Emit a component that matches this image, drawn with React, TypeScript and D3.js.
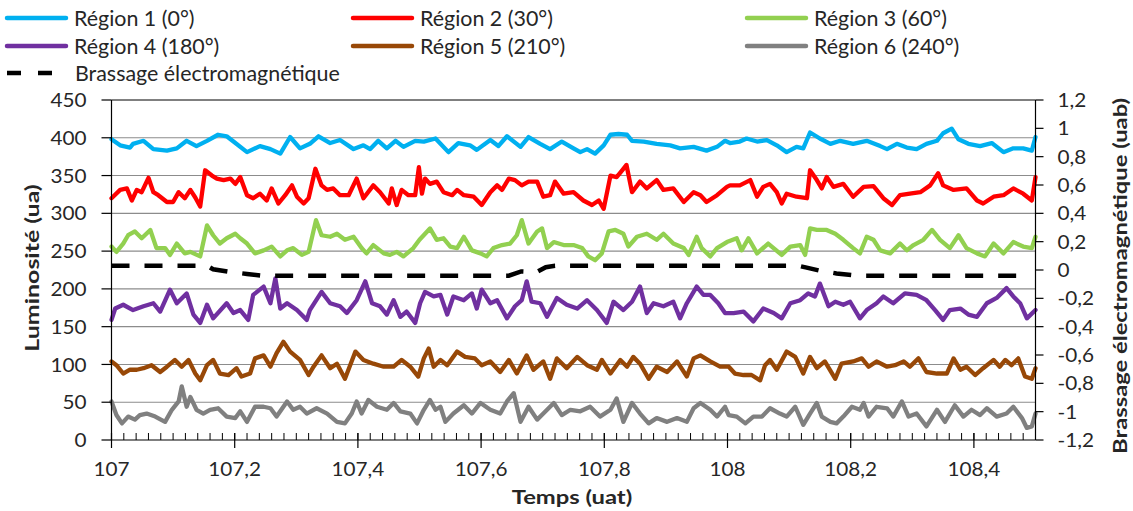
import React from "react";
import * as d3 from "d3";

// ---------- DATA (time in uat, luminosity in ua) ----------
const region1: [number, number][] = [
  [107.000, 398], [107.014, 390], [107.030, 387], [107.035, 392], [107.052, 396], [107.068, 385], [107.090, 383], [107.106, 386],
  [107.122, 396], [107.138, 389], [107.155, 396], [107.173, 404], [107.187, 402], [107.198, 395], [107.220, 381], [107.241, 389],
  [107.258, 385], [107.274, 379], [107.290, 401], [107.306, 386], [107.322, 392], [107.336, 402], [107.355, 393], [107.371, 397],
  [107.393, 385], [107.409, 390], [107.420, 385], [107.433, 396], [107.447, 386], [107.461, 396], [107.474, 388], [107.493, 396],
  [107.507, 395], [107.526, 399], [107.547, 381], [107.563, 393], [107.582, 390], [107.593, 384], [107.615, 397], [107.628, 389],
  [107.642, 402], [107.664, 388], [107.677, 401], [107.696, 392], [107.712, 385], [107.731, 395], [107.750, 386], [107.761, 381],
  [107.772, 385], [107.785, 379], [107.799, 390], [107.810, 404], [107.823, 405], [107.837, 404], [107.845, 396], [107.864, 395],
  [107.885, 392], [107.907, 390], [107.923, 386], [107.945, 388], [107.966, 383], [107.983, 388], [107.996, 396], [108.004, 393],
  [108.020, 395], [108.031, 399], [108.048, 395], [108.064, 397], [108.080, 390], [108.096, 381], [108.112, 388], [108.123, 386],
  [108.134, 407], [108.150, 399], [108.167, 392], [108.183, 396], [108.204, 392], [108.226, 396], [108.248, 389], [108.259, 385],
  [108.275, 392], [108.291, 387], [108.307, 385], [108.323, 392], [108.340, 396], [108.350, 406], [108.364, 412], [108.375, 398],
  [108.391, 392], [108.410, 389], [108.429, 393], [108.448, 381], [108.464, 386], [108.480, 386], [108.494, 383], [108.500, 401],
];

const region2: [number, number][] = [
  [107.000, 320], [107.014, 331], [107.025, 333], [107.033, 317], [107.041, 331], [107.049, 328], [107.060, 347], [107.068, 328],
  [107.076, 324], [107.090, 315], [107.100, 315], [107.109, 328], [107.119, 320], [107.128, 331], [107.136, 321], [107.144, 309],
  [107.152, 357], [107.163, 350], [107.171, 346], [107.182, 344], [107.193, 346], [107.201, 339], [107.209, 348], [107.220, 324],
  [107.230, 320], [107.241, 326], [107.252, 317], [107.260, 333], [107.271, 313], [107.282, 324], [107.293, 337], [107.301, 322],
  [107.312, 313], [107.320, 320], [107.331, 359], [107.341, 337], [107.350, 331], [107.360, 333], [107.371, 324], [107.385, 324],
  [107.398, 346], [107.409, 320], [107.425, 337], [107.436, 328], [107.450, 313], [107.455, 333], [107.463, 311], [107.471, 331],
  [107.482, 324], [107.493, 324], [107.499, 361], [107.504, 326], [107.509, 346], [107.517, 339], [107.528, 342], [107.539, 328],
  [107.553, 324], [107.561, 331], [107.572, 324], [107.588, 322], [107.601, 311], [107.615, 328], [107.626, 337], [107.634, 331],
  [107.645, 346], [107.655, 344], [107.666, 337], [107.677, 342], [107.691, 342], [107.701, 322], [107.712, 324], [107.720, 342],
  [107.734, 326], [107.750, 328], [107.766, 317], [107.780, 311], [107.791, 317], [107.799, 306], [107.810, 350], [107.820, 348],
  [107.829, 357], [107.836, 364], [107.845, 328], [107.858, 342], [107.869, 333], [107.885, 344], [107.896, 331], [107.912, 333],
  [107.929, 315], [107.945, 328], [107.956, 324], [107.966, 315], [107.983, 324], [107.999, 335], [108.004, 337], [108.020, 337],
  [108.037, 344], [108.048, 322], [108.058, 335], [108.069, 339], [108.080, 328], [108.088, 313], [108.096, 326], [108.112, 322],
  [108.129, 320], [108.134, 357], [108.145, 344], [108.153, 333], [108.161, 348], [108.172, 335], [108.188, 339], [108.204, 322],
  [108.221, 335], [108.237, 336], [108.253, 320], [108.267, 311], [108.280, 324], [108.296, 326], [108.313, 328], [108.329, 337],
  [108.342, 353], [108.350, 337], [108.367, 331], [108.388, 333], [108.405, 317], [108.415, 313], [108.432, 322], [108.448, 324],
  [108.464, 333], [108.480, 326], [108.494, 317], [108.500, 348],
];

const region3: [number, number][] = [
  [107.000, 256], [107.008, 249], [107.019, 260], [107.027, 271], [107.038, 276], [107.049, 267], [107.063, 278], [107.073, 254],
  [107.087, 254], [107.095, 245], [107.106, 260], [107.119, 247], [107.128, 249], [107.144, 243], [107.155, 284], [107.165, 271],
  [107.176, 260], [107.187, 267], [107.201, 273], [107.209, 267], [107.220, 260], [107.233, 247], [107.247, 251], [107.260, 256],
  [107.274, 243], [107.285, 251], [107.295, 254], [107.309, 245], [107.320, 249], [107.332, 291], [107.341, 271], [107.355, 269],
  [107.366, 273], [107.379, 265], [107.393, 269], [107.406, 254], [107.414, 247], [107.425, 258], [107.442, 247], [107.452, 245],
  [107.463, 249], [107.474, 243], [107.490, 254], [107.500, 265], [107.517, 280], [107.528, 265], [107.539, 267], [107.550, 256],
  [107.561, 254], [107.572, 269], [107.585, 251], [107.599, 247], [107.609, 243], [107.620, 254], [107.634, 258], [107.647, 260],
  [107.658, 271], [107.666, 291], [107.677, 260], [107.691, 276], [107.699, 280], [107.707, 254], [107.718, 262], [107.734, 258],
  [107.750, 258], [107.764, 254], [107.774, 243], [107.785, 238], [107.796, 247], [107.807, 276], [107.818, 278], [107.831, 273],
  [107.839, 256], [107.853, 269], [107.869, 273], [107.885, 265], [107.896, 273], [107.912, 260], [107.929, 254], [107.937, 245],
  [107.950, 269], [107.958, 254], [107.972, 243], [107.983, 254], [107.999, 262], [108.015, 267], [108.023, 251], [108.034, 267],
  [108.048, 247], [108.066, 260], [108.088, 245], [108.102, 256], [108.118, 258], [108.126, 245], [108.134, 280], [108.145, 278],
  [108.161, 278], [108.175, 273], [108.188, 265], [108.204, 254], [108.215, 247], [108.226, 269], [108.237, 265], [108.248, 251],
  [108.264, 247], [108.280, 260], [108.291, 251], [108.302, 258], [108.318, 265], [108.332, 278], [108.345, 265], [108.361, 254],
  [108.375, 271], [108.388, 254], [108.405, 247], [108.418, 243], [108.432, 260], [108.448, 247], [108.464, 262], [108.480, 256],
  [108.494, 254], [108.500, 269],
];

const region4: [number, number][] = [
  [107.000, 159], [107.006, 174], [107.019, 179], [107.035, 172], [107.052, 177], [107.068, 181], [107.079, 170], [107.095, 199],
  [107.106, 181], [107.122, 194], [107.133, 166], [107.144, 155], [107.155, 179], [107.165, 161], [107.187, 181], [107.198, 168],
  [107.209, 172], [107.222, 159], [107.230, 192], [107.247, 203], [107.258, 181], [107.266, 214], [107.274, 174], [107.285, 181],
  [107.301, 172], [107.317, 159], [107.322, 172], [107.341, 196], [107.355, 181], [107.371, 177], [107.382, 168], [107.398, 185],
  [107.412, 210], [107.423, 181], [107.436, 177], [107.447, 166], [107.458, 185], [107.469, 163], [107.479, 170], [107.493, 155],
  [107.501, 181], [107.509, 196], [107.523, 190], [107.534, 192], [107.545, 166], [107.555, 190], [107.572, 185], [107.585, 194],
  [107.593, 174], [107.601, 199], [107.615, 181], [107.626, 185], [107.642, 161], [107.655, 177], [107.666, 185], [107.674, 210],
  [107.682, 183], [107.696, 181], [107.707, 163], [107.723, 188], [107.739, 179], [107.756, 174], [107.772, 185], [107.788, 172],
  [107.804, 155], [107.815, 183], [107.831, 172], [107.845, 183], [107.858, 203], [107.869, 168], [107.880, 181], [107.896, 177],
  [107.912, 183], [107.923, 161], [107.934, 181], [107.950, 203], [107.961, 192], [107.972, 192], [107.985, 181], [107.996, 168],
  [108.010, 168], [108.026, 170], [108.042, 157], [108.058, 174], [108.075, 168], [108.088, 161], [108.102, 181], [108.118, 185],
  [108.131, 194], [108.142, 190], [108.150, 207], [108.164, 177], [108.175, 183], [108.188, 179], [108.199, 183], [108.215, 161],
  [108.226, 172], [108.242, 181], [108.253, 190], [108.269, 181], [108.288, 194], [108.307, 192], [108.323, 185], [108.337, 172],
  [108.350, 159], [108.361, 172], [108.378, 174], [108.391, 166], [108.405, 163], [108.421, 181], [108.437, 188], [108.453, 201],
  [108.464, 190], [108.475, 181], [108.486, 161], [108.500, 172],
];

const region5: [number, number][] = [
  [107.000, 104], [107.008, 99], [107.019, 88], [107.030, 93], [107.041, 93], [107.052, 95], [107.065, 99], [107.079, 90],
  [107.090, 97], [107.103, 106], [107.114, 97], [107.125, 106], [107.136, 88], [107.144, 79], [107.155, 99], [107.165, 106],
  [107.176, 88], [107.190, 86], [107.203, 95], [107.211, 84], [107.225, 88], [107.233, 108], [107.247, 112], [107.258, 97],
  [107.268, 115], [107.279, 130], [107.290, 117], [107.306, 106], [107.320, 86], [107.328, 97], [107.341, 112], [107.355, 95],
  [107.366, 101], [107.379, 81], [107.396, 117], [107.409, 106], [107.425, 101], [107.442, 97], [107.458, 97], [107.471, 106],
  [107.485, 97], [107.498, 84], [107.507, 108], [107.515, 121], [107.523, 97], [107.534, 106], [107.545, 99], [107.561, 117],
  [107.574, 110], [107.590, 108], [107.601, 99], [107.615, 104], [107.631, 90], [107.645, 106], [107.658, 88], [107.674, 112],
  [107.685, 93], [107.701, 104], [107.712, 81], [107.723, 108], [107.739, 95], [107.756, 110], [107.772, 99], [107.788, 93],
  [107.796, 106], [107.810, 88], [107.826, 106], [107.837, 97], [107.847, 110], [107.858, 101], [107.872, 81], [107.885, 97],
  [107.902, 90], [107.918, 104], [107.934, 84], [107.945, 108], [107.956, 112], [107.972, 104], [107.988, 97], [108.002, 97],
  [108.012, 88], [108.026, 86], [108.039, 86], [108.053, 79], [108.061, 99], [108.069, 106], [108.080, 93], [108.096, 117],
  [108.110, 110], [108.123, 88], [108.134, 110], [108.145, 95], [108.158, 104], [108.175, 81], [108.185, 101], [108.204, 104],
  [108.218, 108], [108.229, 97], [108.242, 104], [108.259, 97], [108.272, 99], [108.286, 104], [108.296, 97], [108.310, 108],
  [108.323, 90], [108.340, 88], [108.356, 88], [108.367, 108], [108.378, 93], [108.388, 97], [108.402, 86], [108.415, 95],
  [108.432, 106], [108.442, 97], [108.451, 106], [108.461, 99], [108.472, 108], [108.483, 84], [108.494, 81], [108.500, 95],
];

const region6: [number, number][] = [
  [107.000, 51], [107.008, 33], [107.017, 22], [107.027, 31], [107.038, 27], [107.046, 33], [107.057, 35], [107.071, 31],
  [107.087, 24], [107.098, 40], [107.109, 51], [107.114, 71], [107.122, 44], [107.128, 57], [107.138, 40], [107.149, 35],
  [107.160, 40], [107.173, 42], [107.187, 31], [107.201, 29], [107.209, 38], [107.220, 24], [107.233, 44], [107.247, 44],
  [107.258, 42], [107.268, 31], [107.285, 51], [107.295, 40], [107.306, 44], [107.317, 35], [107.333, 42], [107.350, 35],
  [107.366, 24], [107.379, 22], [107.390, 35], [107.398, 51], [107.406, 35], [107.417, 53], [107.431, 44], [107.447, 40],
  [107.458, 49], [107.469, 38], [107.485, 35], [107.496, 22], [107.507, 40], [107.517, 53], [107.526, 40], [107.534, 44],
  [107.542, 24], [107.555, 35], [107.572, 46], [107.585, 35], [107.599, 49], [107.615, 40], [107.631, 35], [107.642, 51],
  [107.653, 62], [107.664, 24], [107.677, 44], [107.691, 27], [107.701, 35], [107.718, 49], [107.731, 33], [107.745, 40],
  [107.761, 38], [107.777, 44], [107.793, 31], [107.810, 40], [107.820, 55], [107.831, 24], [107.845, 49], [107.858, 35],
  [107.872, 22], [107.885, 29], [107.902, 24], [107.918, 29], [107.934, 24], [107.945, 42], [107.956, 49], [107.972, 40],
  [107.983, 31], [107.996, 44], [108.002, 33], [108.015, 31], [108.029, 22], [108.042, 31], [108.056, 31], [108.069, 42],
  [108.085, 35], [108.096, 31], [108.110, 44], [108.123, 20], [108.134, 35], [108.145, 49], [108.153, 31], [108.167, 24],
  [108.177, 22], [108.188, 31], [108.202, 44], [108.215, 40], [108.221, 49], [108.229, 31], [108.242, 44], [108.259, 42],
  [108.269, 31], [108.283, 51], [108.294, 31], [108.307, 35], [108.323, 18], [108.340, 40], [108.353, 24], [108.369, 46],
  [108.383, 31], [108.396, 40], [108.410, 33], [108.421, 42], [108.437, 31], [108.453, 35], [108.464, 44], [108.478, 29],
  [108.486, 16], [108.494, 18], [108.500, 35],
];

// electromagnetic stirring (secondary axis, uab)
const brassage: [number, number][] = [
  [107.000, 0.03], [107.155, 0.03], [107.165, 0.005], [107.190, -0.012], [107.220, -0.028], [107.245, -0.04],
  [107.645, -0.04], [107.665, -0.01], [107.690, -0.015], [107.705, 0.02], [107.720, 0.03], [108.115, 0.03],
  [108.125, 0.02], [108.150, -0.005], [108.177, -0.024], [108.204, -0.036], [108.215, -0.04], [108.490, -0.04],
];

const seriesNames = [
  "Région 1 (0°)", "Région 2 (30°)", "Région 3 (60°)",
  "Région 4 (180°)", "Région 5 (210°)", "Région 6 (240°)",
];
const seriesColors = ["#00B0F0", "#FF0000", "#92D050", "#7030A0", "#984807", "#808080"];
const brassageName = "Brassage électromagnétique";

const leftTicks = [0, 50, 100, 150, 200, 250, 300, 350, 400, 450];
const rightTicks = [-1.2, -1, -0.8, -0.6, -0.4, -0.2, 0, 0.2, 0.4, 0.6, 0.8, 1, 1.2];
const xTicks = [107, 107.2, 107.4, 107.6, 107.8, 108, 108.2, 108.4];

const fmt = (v: number) => String(+v.toFixed(2)).replace(".", ",");

const FONT = "Lato, 'Open Sans', sans-serif";

function T(props: {
  x: number; y: number; text: string; size: number; sx?: number; anchor?: string; bold?: boolean; rotate?: number;
}) {
  const { x, y, text, size, sx = 1.15, anchor = "start", bold = false, rotate = 0 } = props;
  return (
    <text
      transform={`translate(${x},${y}) rotate(${rotate}) scale(${sx},1)`}
      fontFamily={FONT}
      fontSize={size}
      fontWeight={bold ? 700 : 400}
      textAnchor={anchor as any}
      dominantBaseline="central"
      fill="#262626"
    >
      {text}
    </text>
  );
}

export default function App() {
  const W = 1133, H = 511;
  const x = d3.scaleLinear().domain([107, 108.5]).range([111.5, 1035.5]);
  const y = d3.scaleLinear().domain([0, 450]).range([440, 100]);
  const y2 = d3.scaleLinear().domain([-1.2, 1.2]).range([440, 100]);
  const line = d3.line<[number, number]>().x((d) => x(d[0])).y((d) => y(d[1]));
  const line2 = d3.line<[number, number]>().x((d) => x(d[0])).y((d) => y2(d[1]));
  const series = [region1, region2, region3, region4, region5, region6];
  const minor = d3.range(0, 76).map((i) => 107 + i * 0.02);

  const legendCols = [7, 353, 747];
  const legendRows = [18, 46];
  const TICK = 18.5, TSX = 1.12;
  const TITLE = 19.5, TISX = 1.22;
  const LEG = 21, LSX = 1.02;

  return (
    <svg width={W} height={H} style={{ position: "absolute", left: 0, top: 0, background: "#fff" }}>
      <rect x={0} y={0} width={W} height={H} fill="#fff" />
      {/* gridlines */}
      {leftTicks.filter((t) => t > 0 && t < 450).map((t) => (
        <line key={"g" + t} x1={x(107)} x2={x(108.5)} y1={y(t)} y2={y(t)} stroke="#8c8c8c" strokeWidth={1.1} />
      ))}
      <line x1={x(107)} x2={x(108.5)} y1={y(450)} y2={y(450)} stroke="#000" strokeWidth={1} />
      {/* series */}
      {series.map((s, i) => (
        <path key={i} d={line(s) || ""} fill="none" stroke={seriesColors[i]} strokeWidth={4.3} strokeLinejoin="round" strokeLinecap="round" />
      ))}
      <path d={line2(brassage) || ""} fill="none" stroke="#000" strokeWidth={4.5} strokeDasharray="18 15" />
      {/* axes */}
      <line x1={x(107)} x2={x(107)} y1={100} y2={440} stroke="#000" strokeWidth={1.2} />
      <line x1={x(108.5)} x2={x(108.5)} y1={100} y2={440} stroke="#000" strokeWidth={1.2} />
      <line x1={x(107)} x2={x(108.5)} y1={y(0)} y2={y(0)} stroke="#000" strokeWidth={1.2} />
      {leftTicks.map((t) => (
        <g key={"l" + t}>
          <line x1={x(107) - 10} x2={x(107)} y1={y(t)} y2={y(t)} stroke="#000" strokeWidth={1.2} />
          <T x={x(107) - 25} y={y(t)} text={String(t)} size={TICK} sx={TSX} anchor="end" />
        </g>
      ))}
      {rightTicks.map((t) => (
        <g key={"r" + t}>
          <line x1={x(108.5)} x2={x(108.5) + 8} y1={y2(t)} y2={y2(t)} stroke="#000" strokeWidth={1.2} />
          <T x={x(108.5) + 22} y={y2(t)} text={fmt(t)} size={TICK} sx={TSX} anchor="start" />
        </g>
      ))}
      {minor.map((t, i) => (
        <line key={"m" + i} x1={x(t)} x2={x(t)} y1={y(0) - 7} y2={y(0)} stroke="#000" strokeWidth={1} />
      ))}
      {xTicks.map((t) => (
        <g key={"x" + t}>
          <line x1={x(t)} x2={x(t)} y1={y(0) - 7} y2={y(0) + 8} stroke="#000" strokeWidth={1.2} />
          <T x={x(t)} y={469} text={fmt(t)} size={TICK} sx={TSX} anchor="middle" />
        </g>
      ))}
      {/* axis titles */}
      <T x={572} y={497} text="Temps (uat)" size={TITLE} sx={TISX} anchor="middle" bold />
      <T x={32} y={268} text="Luminosité (ua)" size={TITLE} sx={TISX + 0.06} anchor="middle" bold rotate={-90} />
      <T x={1120} y={276} text="Brassage électromagnétique (uab)" size={TITLE} sx={TISX} anchor="middle" bold rotate={-90} />
      {/* legend */}
      {seriesNames.map((n, i) => {
        const cx = legendCols[i % 3];
        const cy = legendRows[Math.floor(i / 3)];
        return (
          <g key={"lg" + i}>
            <line x1={cx} x2={cx + 59} y1={cy} y2={cy} stroke={seriesColors[i]} strokeWidth={4.5} strokeLinecap="round" />
            <T x={cx + 67} y={cy} text={n} size={LEG} sx={LSX} />
          </g>
        );
      })}
      <line x1={7} x2={53} y1={73} y2={73} stroke="#000" strokeWidth={4.5} strokeDasharray="14 17" />
      <T x={75} y={73} text={brassageName} size={LEG} sx={LSX} />
    </svg>
  );
}
